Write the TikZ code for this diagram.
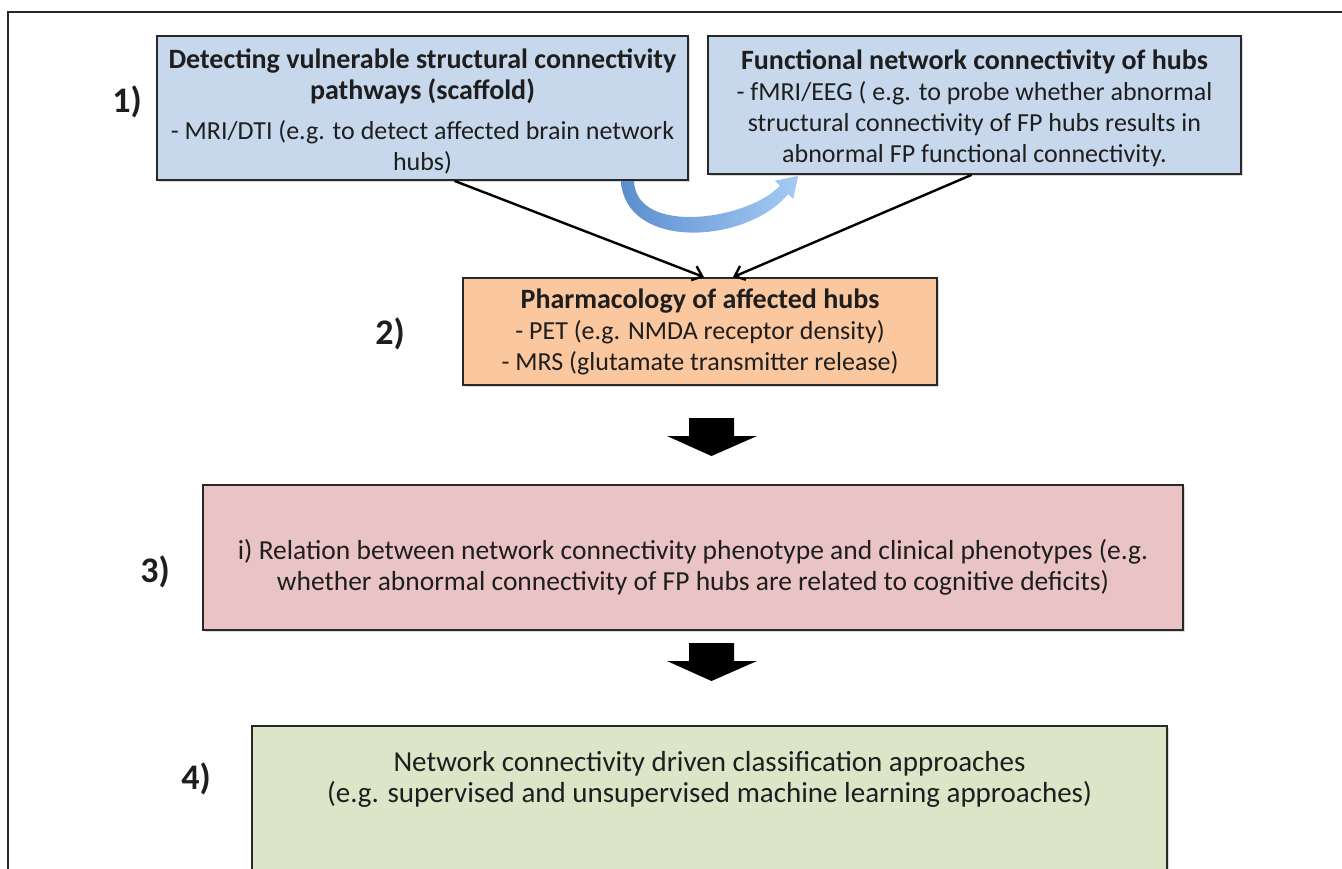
\documentclass[tikz,border=0pt]{standalone}
\usepackage{fontspec}
\setmainfont{Carlito}
\usetikzlibrary{arrows.meta,shadows}
\definecolor{boxblue}{RGB}{199,216,237}
\definecolor{boxorange}{RGB}{250,199,158}
\definecolor{boxpink}{RGB}{234,196,196}
\definecolor{boxgreen}{RGB}{221,229,200}
\definecolor{txt}{RGB}{30,30,30}
\definecolor{edge}{RGB}{40,40,40}
\definecolor{arcdark}{RGB}{92,142,205}
\definecolor{arclight}{RGB}{165,203,245}
\newcommand\ttl[1]{{\fontsize{28}{31}\selectfont\bfseries #1}}
\begin{document}
\begin{tikzpicture}[x=1pt,y=-1pt,
  box/.style={draw=edge, line width=1.8pt, align=center, inner sep=0pt,
    text=txt, font=\fontsize{26}{31}\selectfont,
    drop shadow={shadow xshift=1.5pt, shadow yshift=-1.5pt, opacity=0.3}},
  plain/.style={align=center, inner sep=0pt, text=txt, font=\fontsize{26}{31}\selectfont},
  steplabel/.style={font=\fontsize{36}{40}\selectfont\bfseries, text=txt},
  link/.style={line width=2.4pt, draw=black, -{Straight Barb[length=9pt,width=15pt,line width=2.4pt]}},
  blockarrow/.style={fill=black}]
\useasboundingbox (0,0) rectangle (1342,868);
\clip (0,0) rectangle (1342,868);
% frame
\draw[line width=1.4pt, draw=edge] (8,880) -- (8,12) -- (1350,12);

% boxes
\node[box, fill=boxblue, minimum width=531pt, minimum height=144pt] (b1) at (422.5,108) {};
\node[plain] (b1t) at (422.5,111)
 {\ttl{Detecting vulnerable structural connectivity}\\
  \ttl{pathways (scaffold)}\\[9pt]
  - MRI/DTI (e.g. to detect affected brain network\\
  hubs)};
\node[box, fill=boxblue, minimum width=533pt, minimum height=138pt] (b2) at (974.5,105) {};
\node[plain] (b2t) at (974.5,108)
 {\ttl{Functional network connectivity of hubs}\\
  - fMRI/EEG ( e.g. to probe whether abnormal\\
  structural connectivity of FP hubs results in\\
  abnormal FP functional connectivity.};
\node[box, fill=boxorange, minimum width=474pt, minimum height=107pt] (b3) at (700,331.5)
 {\ttl{Pharmacology of affected hubs}\\
  - PET (e.g. NMDA receptor density)\\
  - MRS (glutamate transmitter release)};
\node[box, fill=boxpink, minimum width=980pt, minimum height=145pt] (b4) at (693,557.5) {};
\node[plain, font=\fontsize{27.5}{31}\selectfont] (b4t) at (693,567.5)
 {i) Relation between network connectivity phenotype and clinical phenotypes (e.g.\\
  whether abnormal connectivity of FP hubs are related to cognitive deficits)};
\path[draw=edge, line width=1.8pt, fill=boxgreen,
  drop shadow={shadow xshift=1.5pt, shadow yshift=-1.5pt, opacity=0.3}]
  (252,726) rectangle (1167,900);
\node[plain, font=\fontsize{29}{31}\selectfont] (b5) at (709.5,779)
 {Network connectivity driven classification approaches\\
  (e.g. supervised and unsupervised machine learning approaches)};

% step labels
\node[steplabel] (l1) at (127,102) {1)};
\node[steplabel] (l2) at (390,334) {2)};
\node[steplabel] (l3) at (155,572) {3)};
\node[steplabel] (l4) at (196,779) {4)};

% connectors
\draw[link] ([xshift=32pt]b1.south) -- ([xshift=4pt]b3.north);
\draw[link] ([xshift=-3pt]b2.south) -- ([xshift=33pt]b3.north);

% curved blue arrow
\shade[left color=arcdark, right color=arclight]
  (621,181) .. controls (625,250) and (745,245) .. (788.2,194.2)
  -- (793.2,199.2) -- (798.1,175.9) -- (774.8,180.8) -- (779.8,185.8)
  .. controls (748,220) and (636,236) .. (634,181) -- cycle;

% block arrows
\foreach \dy/\nm in {0/a1,225/a2}{
  \fill[black] (689,418+\dy) -- (734,418+\dy) -- (734,436+\dy) -- (757,436+\dy)
    -- (711.5,456+\dy) -- (667,436+\dy) -- (689,436+\dy) -- cycle;
}
\end{tikzpicture}
\end{document}
